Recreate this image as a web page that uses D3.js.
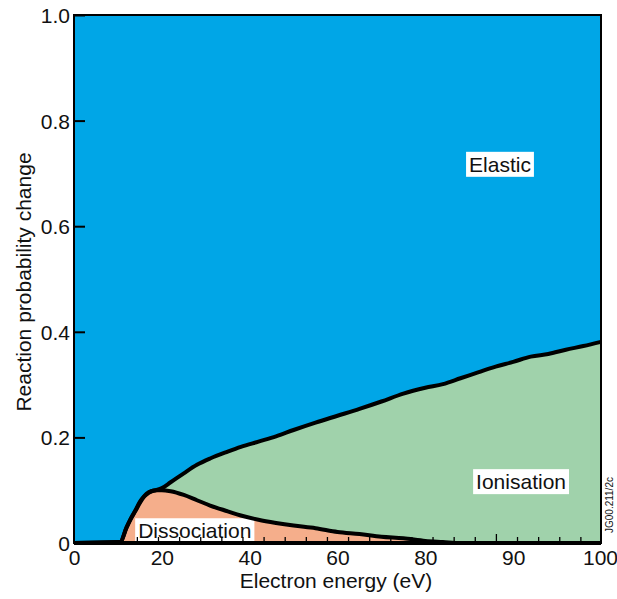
<!DOCTYPE html>
<html>
<head>
<meta charset="utf-8">
<script src="https://cdn.jsdelivr.net/npm/d3@7"></script>
<style>
    body { margin: 0; background: #fff; }
    text { font-family: Arial, "Liberation Sans", sans-serif; fill: #111; }
</style>
</head>
<body>
<div id="chart"></div>
<script>

    // Data
    var energy = [0, 10.5, 12, 13, 14, 15, 16, 17, 18, 19, 20, 22, 25, 28, 31, 35, 38, 42, 46, 50,
                  55, 60, 65, 70, 75, 80, 82, 84, 86, 88, 90, 92, 94, 96, 98, 100];
    var dissociation = [0, 0.002, 0.03, 0.047, 0.061, 0.076, 0.088, 0.095, 0.099, 0.1, 0.1, 0.098, 0.091, 0.081, 0.071, 0.06, 0.052, 0.044, 0.038, 0.033,
                        0.028, 0.021, 0.017, 0.012, 0.009, 0.004, 0.002, 0, 0, 0, 0, 0, 0, 0, 0, 0];
    var inelastic = [0, 0.002, 0.03, 0.047, 0.062, 0.078, 0.089, 0.096, 0.099, 0.101, 0.104, 0.115, 0.132, 0.148, 0.16, 0.173, 0.182, 0.192, 0.202, 0.214,
                     0.228, 0.241, 0.254, 0.268, 0.283, 0.294, 0.301, 0.312, 0.323, 0.334, 0.343, 0.353, 0.358, 0.366, 0.373, 0.381];

    var xTickValues = [0, 20, 40, 60, 80, 90, 100];
    var yTickValues = [0, 0.2, 0.4, 0.6, 0.8, 1.0];
    var yTickLabels = ['0', '0.2', '0.4', '0.6', '0.8', '1.0'];

    var regionLabels = [
        { text: 'Elastic', e: 88.5, p: 0.703 },
        { text: 'Ionisation', e: 90.9, p: 0.102 },
        { text: 'Dissociation', e: 27.5, p: 0.009 }
    ];

    var colors = { elastic: '#00a6e7', ionisation: '#a0d2ab', dissociation: '#f5ae8b' };

    // Layout
    var W = 617, H = 599;
    var m = { left: 74, top: 15, right: 16, bottom: 56 };
    var w = W - m.left - m.right,
        h = H - m.top - m.bottom;

    var svg = d3.select('#chart').append('svg')
        .attr('width', W).attr('height', H);
    var g = svg.append('g').attr('transform', 'translate(' + m.left + ',' + m.top + ')');

    // axis labels are evenly spaced even though the values are not
    var x = d3.scaleLinear()
        .domain(xTickValues)
        .range(xTickValues.map(function(d, i){ return i * w / (xTickValues.length - 1); }));
    var y = d3.scaleLinear().domain([0, 1]).range([h, 0]);

    var rows = energy.map(function(e, i){
        return { e: e, d: dissociation[i], t: inelastic[i] };
    });

    var curve = d3.curveMonotoneX;

    // Filled regions
    g.append('path').datum(rows)
        .attr('fill', colors.elastic)
        .attr('d', d3.area().curve(curve)
            .x(function(d){ return x(d.e); })
            .y0(function(d){ return y(d.t); })
            .y1(y(1)));

    g.append('path').datum(rows)
        .attr('fill', colors.ionisation)
        .attr('d', d3.area().curve(curve)
            .x(function(d){ return x(d.e); })
            .y0(function(d){ return y(d.d); })
            .y1(function(d){ return y(d.t); }));

    g.append('path').datum(rows)
        .attr('fill', colors.dissociation)
        .attr('d', d3.area().curve(curve)
            .x(function(d){ return x(d.e); })
            .y0(y(0))
            .y1(function(d){ return y(d.d); }));

    // Region labels on white boxes
    regionLabels.forEach(function(l){
        var t = g.append('text')
            .attr('x', x(l.e)).attr('y', y(l.p))
            .attr('text-anchor', 'middle')
            .style('font-size', '21px')
            .text(l.text);
        var bb = t.node().getBBox();
        g.insert('rect', function(){ return t.node(); })
            .attr('x', bb.x - 3).attr('y', bb.y - 1)
            .attr('width', bb.width + 6).attr('height', bb.height + 2)
            .attr('fill', '#fff');
    });

    // Boundary curves
    ['t', 'd'].forEach(function(k){
        g.append('path').datum(rows)
            .attr('fill', 'none')
            .attr('stroke', '#000')
            .attr('stroke-width', 4)
            .attr('stroke-linejoin', 'round')
            .attr('d', d3.line().curve(curve)
                .x(function(d){ return x(d.e); })
                .y(function(d){ return y(d[k]); }));
    });

    // Minor ticks along the bottom
    var tickPos = d3.scaleLinear().domain([0, 25]).range([0, w + 1]);
    g.selectAll('.minor').data(d3.range(3, 25)).enter().append('line')
        .attr('x1', function(d){ return tickPos(d); })
        .attr('x2', function(d){ return tickPos(d); })
        .attr('y1', h).attr('y2', function(d){ return d === 20 ? h - 9 : h - 6; })
        .attr('stroke', '#000').attr('stroke-width', 1.3);

    // Frame
    g.append('rect')
        .attr('x', 0).attr('y', 0).attr('width', w).attr('height', h)
        .attr('fill', 'none').attr('stroke', '#000').attr('stroke-width', 2);
    g.append('line')
        .attr('x1', 0).attr('x2', w).attr('y1', h).attr('y2', h)
        .attr('stroke', '#000').attr('stroke-width', 4);

    // Y axis
    var yAxis = d3.axisLeft(y)
        .tickValues(yTickValues)
        .tickSize(-11)
        .tickPadding(16)
        .tickFormat(function(d, i){ return yTickLabels[i]; });
    var ya = g.append('g').call(yAxis);
    ya.select('.domain').remove();
    ya.selectAll('line').attr('stroke', '#000').attr('stroke-width', 2);
    ya.selectAll('text').style('font-size', '21px')
        .attr('x', -4).attr('dy', '0.36em');

    // X axis
    var xAxis = d3.axisBottom(x)
        .tickValues(xTickValues)
        .tickSize(0)
        .tickPadding(7)
        .tickFormat(d3.format('d'));
    var xa = g.append('g').attr('transform', 'translate(0,' + h + ')').call(xAxis);
    xa.select('.domain').remove();
    xa.selectAll('text').style('font-size', '21px');
    // keep the last label inside the page
    xa.selectAll('text').filter(function(d){ return d === 100; }).attr('dx', -1);

    // Axis titles
    svg.append('text')
        .attr('x', 336).attr('y', 588)
        .attr('text-anchor', 'middle')
        .style('font-size', '21px')
        .text('Electron energy (eV)');

    svg.append('text')
        .attr('transform', 'translate(31,' + (m.top + 267) + ') rotate(-90)')
        .attr('text-anchor', 'middle')
        .style('font-size', '21px')
        .text('Reaction probability change');

    // Figure reference
    svg.append('text')
        .attr('transform', 'translate(613,533) rotate(-90)')
        .style('font-size', '10px')
        .text('JG00.211/2c');

</script>
</body>
</html>
